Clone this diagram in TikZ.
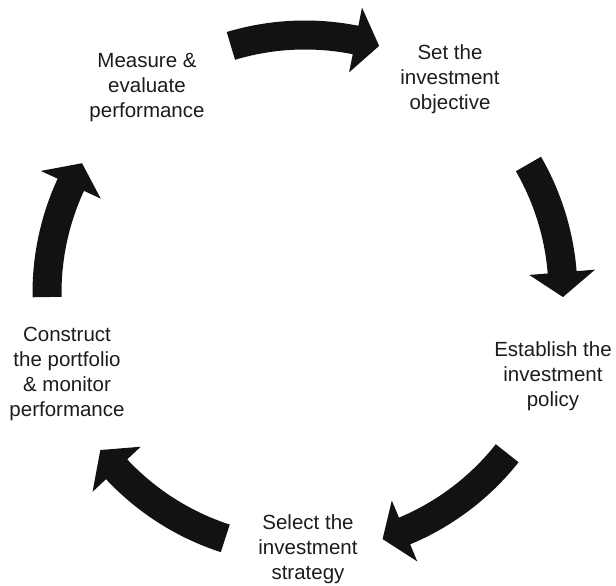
\documentclass[tikz,border=0pt]{standalone}
\usepackage{fontspec}
\setmainfont{Liberation Sans}
\usetikzlibrary{calc}
\definecolor{arrowblack}{HTML}{121212}
\definecolor{textgray}{HTML}{1C1C1C}
\tikzset{
  cyclabel/.style={align=center, anchor=base, inner sep=0pt, text=textgray,
    font=\fontsize{20.5pt}{25pt}\selectfont},
  cycarrow/.style={fill=arrowblack, draw=none}
}
\newcommand\cyclearrow[3]{%
  \fill[cycarrow] ($(C)+(#1:272.5pt)$) arc[start angle=#1, end angle=#2, radius=272.5pt]
    -- ($(C)+(#2:291pt)$) -- ($(C)+(#3:258pt)$) -- ($(C)+(#2:225pt)$)
    -- ($(C)+(#2:243.5pt)$) arc[start angle=#2, end angle=#1, radius=243.5pt] -- cycle;}
\begin{document}
\begin{tikzpicture}[x=1pt,y=1pt]
\useasboundingbox (0,0) rectangle (616,586);
\coordinate (C) at (305,293);
% arrows (tail angle, head-base angle, tip angle)
\cyclearrow{106.7}{78.7}{73.3}
\cyclearrow{30}{4.6}{-0.9}
\cyclearrow{-38.4}{-67.3}{-72.5}
\cyclearrow{252}{223.1}{217.5}
\cyclearrow{180.9}{155.2}{149.8}
% labels (anchor = baseline of last line)
\node[cyclabel] (measure) at (147,468) {Measure \&\\evaluate\\performance};
\node[cyclabel] (objective) at (450,476) {Set the\\investment\\objective};
\node[cyclabel] (policy) at (553,179) {Establish the\\investment\\policy};
\node[cyclabel] (strategy) at (308,6) {Select the\\investment\\strategy};
\node[cyclabel] (construct) at (67,169) {Construct\\the portfolio\\\& monitor\\performance};
\end{tikzpicture}
\end{document}
